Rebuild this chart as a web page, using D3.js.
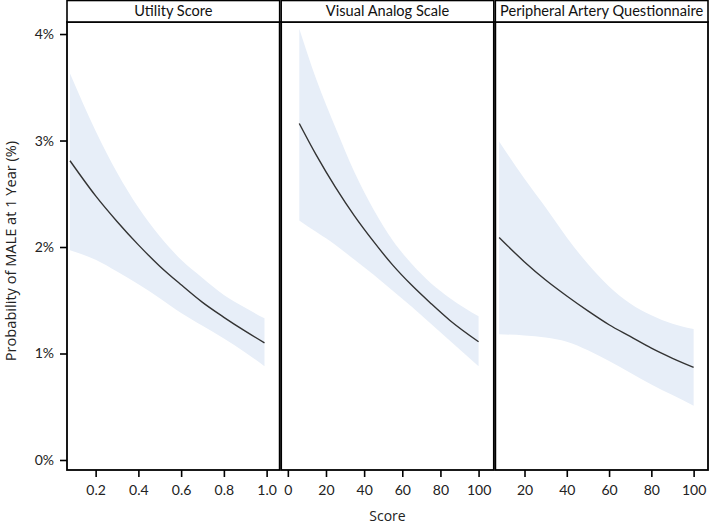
<!DOCTYPE html>
<html><head><meta charset="utf-8">
<script src="https://cdn.jsdelivr.net/npm/d3@7"></script>
<style>
html,body{margin:0;padding:0;background:#fff;}
svg{display:block;font-family:Lato,"Open Sans",sans-serif;}
</style></head>
<body><svg id="c" width="709" height="525"></svg>
<script>
const panelTitles = ["Utility Score", "Visual Analog Scale", "Peripheral Artery Questionnaire"];

const utilityX     = [0.08, 0.2, 0.3, 0.4, 0.5, 0.6, 0.7, 0.8, 0.9, 0.99];
const utilityFit   = [2.81, 2.48, 2.24, 2.02, 1.82, 1.645, 1.48, 1.34, 1.21, 1.10];
const utilityUpper = [3.63, 3.09, 2.70, 2.37, 2.10, 1.88, 1.71, 1.55, 1.43, 1.33];
const utilityLower = [1.97, 1.88, 1.77, 1.65, 1.52, 1.38, 1.26, 1.14, 1.01, 0.88];

const vasX     = [6, 15, 25, 35, 45, 55, 65, 75, 85, 100];
const vasFit   = [3.16, 2.86, 2.56, 2.29, 2.05, 1.83, 1.64, 1.47, 1.31, 1.11];
const vasUpper = [4.05, 3.57, 3.12, 2.70, 2.35, 2.06, 1.84, 1.66, 1.52, 1.35];
const vasLower = [2.25, 2.14, 2.02, 1.88, 1.74, 1.59, 1.44, 1.28, 1.12, 0.88];

const paqX     = [8, 20, 30, 40, 50, 60, 70, 80, 90, 100];
const paqFit   = [2.09, 1.86, 1.69, 1.54, 1.40, 1.27, 1.16, 1.05, 0.955, 0.87];
const paqUpper = [2.99, 2.64, 2.37, 2.09, 1.84, 1.63, 1.47, 1.36, 1.28, 1.23];
const paqLower = [1.18, 1.17, 1.15, 1.11, 1.03, 0.93, 0.82, 0.71, 0.61, 0.51];

const yTicks = [0, 1, 2, 3, 4];
const xTicksUtility = [0.2, 0.4, 0.6, 0.8, 1.0];
const xTicksVas = [0, 20, 40, 60, 80, 100];
const xTicksPaq = [20, 40, 60, 80, 100];

const xDomains = [[0.066, 1.061], [-3.5, 108], [6.2, 106.8]];
const yDomain = [-0.094, 4.113];

const series = [
  {x: utilityX, fit: utilityFit, up: utilityUpper, lo: utilityLower, ticks: xTicksUtility, fmt: d3.format(".1f")},
  {x: vasX, fit: vasFit, up: vasUpper, lo: vasLower, ticks: xTicksVas, fmt: d3.format("d")},
  {x: paqX, fit: paqFit, up: paqUpper, lo: paqLower, ticks: xTicksPaq, fmt: d3.format("d")}
];

const svg = d3.select("#c");
const mLeft = 67, mRight = 708, mTop = 22, mBottom = 470, stripTop = 0.5;
const gap = 1.5;
const pw = (mRight - mLeft - 2 * gap) / 3;

const y = d3.scaleLinear().domain(yDomain).range([mBottom, mTop]);

series.forEach((s, i) => {
  const x0 = mLeft + i * (pw + gap);
  const x = d3.scaleLinear().domain(xDomains[i]).range([x0, x0 + pw]);
  const g = svg.append("g");
  const pts = s.x.map((v, k) => ({x: v, f: s.fit[k], u: s.up[k], l: s.lo[k]}));

  g.append("path").datum(pts)
    .attr("fill", "#e7eef8")
    .attr("d", d3.area().curve(d3.curveMonotoneX).x(d => x(d.x)).y0(d => y(d.l)).y1(d => y(d.u)));
  g.append("path").datum(pts)
    .attr("fill", "none").attr("stroke", "#333").attr("stroke-width", 1.4)
    .attr("d", d3.line().curve(d3.curveMonotoneX).x(d => x(d.x)).y(d => y(d.f)));

  g.append("rect").attr("x", x0).attr("y", mTop).attr("width", pw).attr("height", mBottom - mTop)
    .attr("fill", "none").attr("stroke", "#000").attr("stroke-width", 1.8);
  g.append("rect").attr("x", x0).attr("y", stripTop).attr("width", pw).attr("height", mTop - stripTop)
    .attr("fill", "#fff").attr("stroke", "#000").attr("stroke-width", 1.6);
  g.append("text").attr("x", x0 + pw / 2).attr("y", 15.8).attr("text-anchor", "middle")
    .attr("font-size", 14.6).attr("fill", "#111").text(panelTitles[i]);

  const ax = g.append("g").attr("transform", `translate(0,${mBottom})`)
    .call(d3.axisBottom(x).tickValues(s.ticks).tickFormat(s.fmt).tickSize(7).tickPadding(8));
  ax.select(".domain").remove();
  ax.selectAll("line").attr("stroke", "#000").attr("stroke-width", 1.6);
  ax.selectAll("text").attr("font-size", 14).attr("fill", "#222").attr("font-family", "Lato,'Open Sans',sans-serif");

  if (i === 0) {
    const ay = g.append("g").attr("transform", `translate(${x0},0)`)
      .call(d3.axisLeft(y).tickValues(yTicks).tickFormat(d => d + "%").tickSize(7).tickPadding(6));
    ay.select(".domain").remove();
    ay.selectAll("line").attr("stroke", "#000").attr("stroke-width", 1.6);
    ay.selectAll("text").attr("font-size", 14).attr("fill", "#222").attr("font-family", "Lato,'Open Sans',sans-serif");
  }
});

svg.append("text").attr("transform", `translate(15.5,${(mTop + mBottom) / 2 + 5}) rotate(-90)`)
  .attr("text-anchor", "middle").attr("font-size", 14.6).attr("fill", "#222")
  .attr("font-family", "'Open Sans',sans-serif")
  .text("Probability of MALE at 1 Year (%)");
svg.append("text").attr("x", (mLeft + mRight) / 2).attr("y", 521).attr("text-anchor", "middle")
  .attr("font-size", 14).attr("fill", "#222").attr("font-family", "'Open Sans',sans-serif").text("Score");
</script></body></html>
